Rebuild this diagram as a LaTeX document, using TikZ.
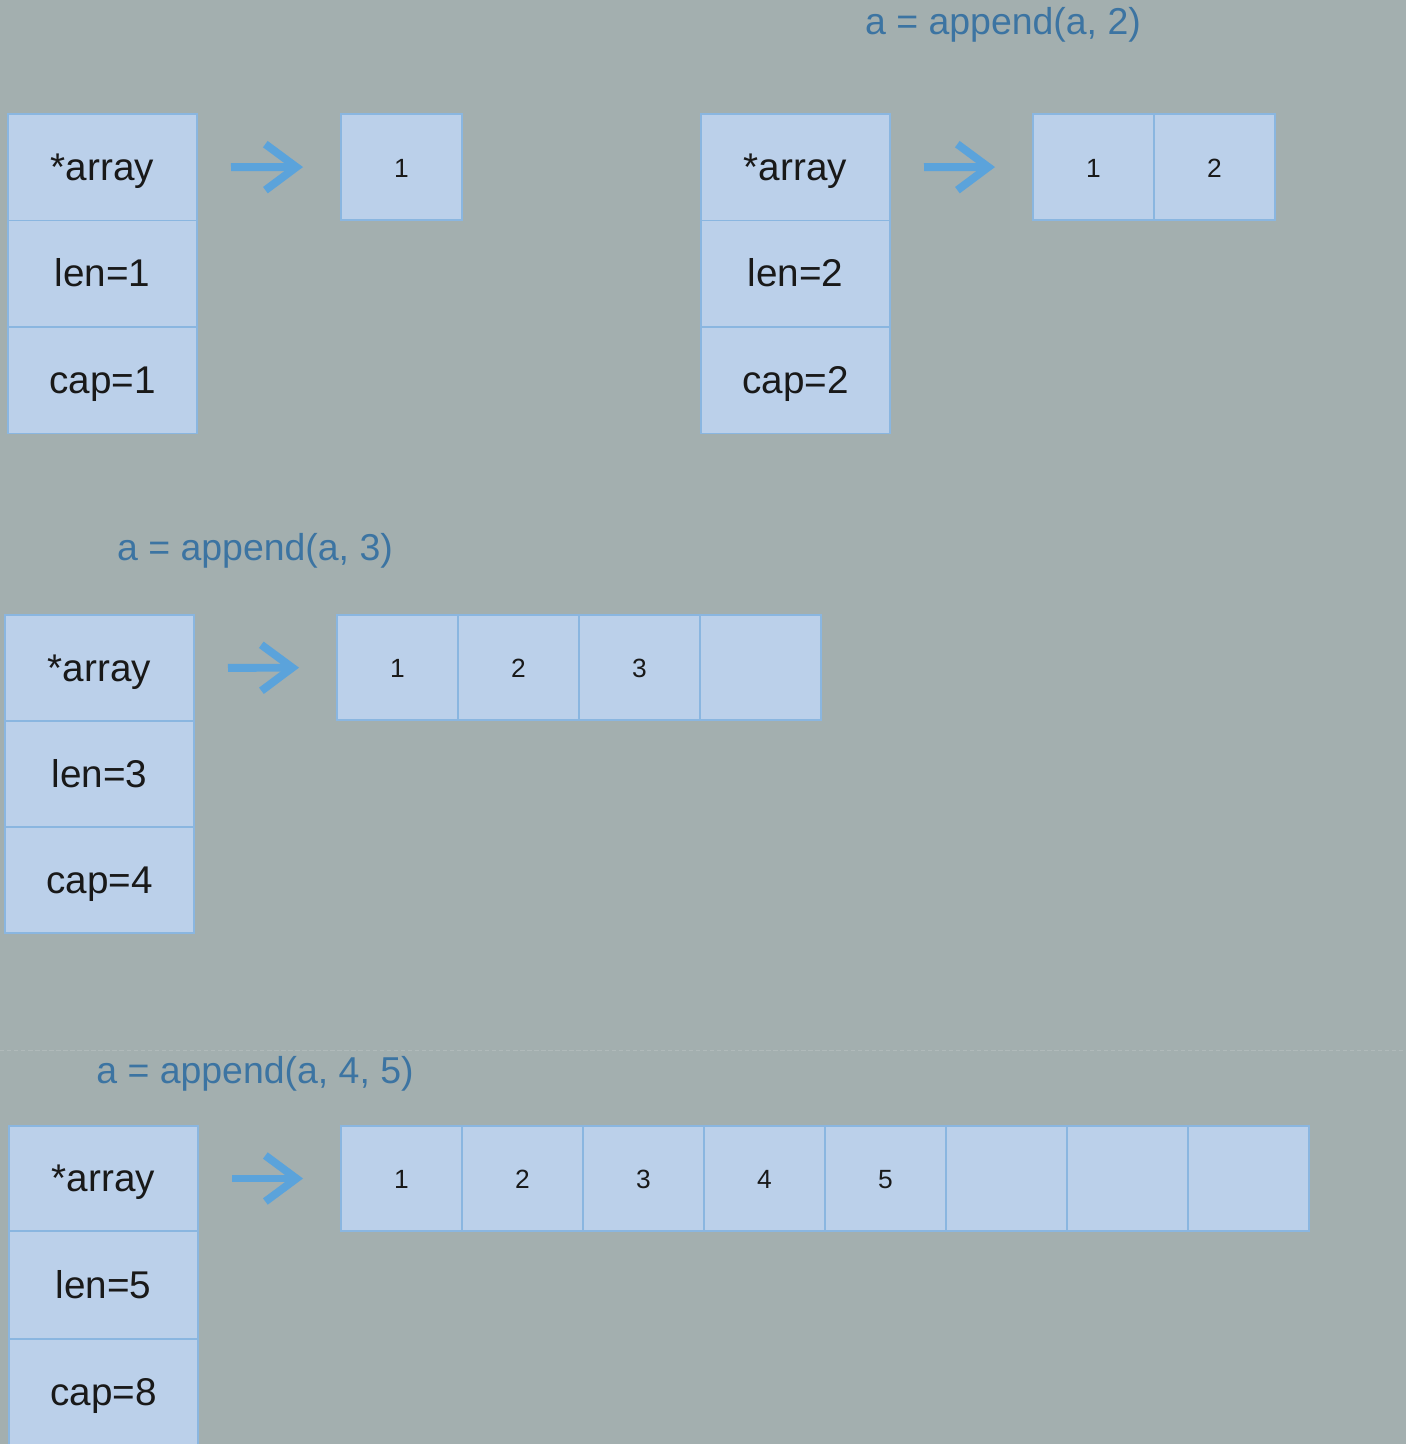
\documentclass[tikz,border=0pt]{standalone}
\usepackage{fontspec}
\setmainfont{Liberation Sans}
\usepackage{xcolor}
\usetikzlibrary{arrows.meta,positioning}

\definecolor{bgcol}{HTML}{A3AFAF}
\definecolor{boxfill}{HTML}{BBD0EA}
\definecolor{boxline}{HTML}{8AB6E0}
\definecolor{ptrcol}{HTML}{5BA3DB}
\definecolor{titlecol}{HTML}{3C74A2}

\begin{document}
\begin{tikzpicture}[
    every node/.style={align=center},
    field/.style={
        draw=boxline,
        fill=boxfill,
        line width=1pt,
        outer sep=0pt,
        minimum width=3.78cm,
        minimum height=2.13cm,
        inner sep=0pt,
        text height=0.72cm,
        text depth=0.2cm,
        text=black!90,
        font=\fontsize{22}{26}\selectfont
    },
    cell/.style={
        field,
        minimum width=2.42cm,
        minimum height=2.12cm,
        text height=0.4cm,
        text depth=0cm,
        font=\fontsize{15}{18}\selectfont
    },
    title/.style={
        text=titlecol,
        font=\fontsize{21.3}{25}\selectfont
    },
    ptr/.style={
        draw=ptrcol,
        line width=4.5pt,
        -{Straight Barb[length=0.62cm,width=0.92cm]},
        shorten <=0.68cm,
        shorten >=0.76cm
    }
]

% Background and frame
\path[use as bounding box, fill=bgcol] (0,0) rectangle (28.12,-28.88);

% Divider
\draw[draw=white!14!bgcol, line width=0.5pt, dash pattern=on 2.5pt off 1.5pt]
    (0,-21.0) -- (28.12,-21.0);

% Step 1: one element
\node[field, anchor=north west] (arr1) at (0.16,-2.28) {*array};
\node[field, below=0pt of arr1] (len1) {len=1};
\node[field, below=0pt of len1] (cap1) {cap=1};

\node[cell, anchor=north west] (buf1a) at (6.82,-2.28) {1};

\draw[ptr] (arr1.east) -- (buf1a.west);

% Step 2: append(a, 2)
\node[title] (title2) at (20.06,-0.5) {a = append(a, 2)};

\node[field, anchor=north west] (arr2) at (14.02,-2.28) {*array};
\node[field, below=0pt of arr2] (len2) {len=2};
\node[field, below=0pt of len2] (cap2) {cap=2};

\node[cell, anchor=north west] (buf2a) at (20.66,-2.28) {1};
\node[cell, right=0pt of buf2a] (buf2b) {2};

\draw[ptr] (arr2.east) -- (buf2a.west);

% Step 3: append(a, 3)
\node[title] (title3) at (5.1,-11.02) {a = append(a, 3)};

\node[field, anchor=north west, minimum height=2.12cm] (arr3) at (0.10,-12.30) {*array};
\node[field, below=0pt of arr3, minimum height=2.12cm] (len3) {len=3};
\node[field, below=0pt of len3, minimum height=2.12cm] (cap3) {cap=4};

\node[cell, anchor=north west, minimum height=2.1cm] (buf3a) at (6.74,-12.30) {1};
\node[cell, right=0pt of buf3a, minimum height=2.1cm] (buf3b) {2};
\node[cell, right=0pt of buf3b, minimum height=2.1cm] (buf3c) {3};
\node[cell, right=0pt of buf3c, minimum height=2.1cm] (buf3d) {};

\draw[ptr] (arr3.east) -- (buf3a.west);

% Step 4: append(a, 4, 5)
\node[title] (title4) at (5.1,-21.48) {a = append(a, 4, 5)};

\node[field, anchor=north west, minimum height=2.1cm] (arr4) at (0.18,-22.52) {*array};
\node[field, below=0pt of arr4, minimum height=2.16cm] (len4) {len=5};
\node[field, below=0pt of len4] (cap4) {cap=8};

\node[cell, anchor=north west, minimum height=2.1cm] (buf4a) at (6.82,-22.52) {1};
\node[cell, right=0pt of buf4a, minimum height=2.1cm] (buf4b) {2};
\node[cell, right=0pt of buf4b, minimum height=2.1cm] (buf4c) {3};
\node[cell, right=0pt of buf4c, minimum height=2.1cm] (buf4d) {4};
\node[cell, right=0pt of buf4d, minimum height=2.1cm] (buf4e) {5};
\node[cell, right=0pt of buf4e, minimum height=2.1cm] (buf4f) {};
\node[cell, right=0pt of buf4f, minimum height=2.1cm] (buf4g) {};
\node[cell, right=0pt of buf4g, minimum height=2.1cm] (buf4h) {};

\draw[ptr] (arr4.east) -- (buf4a.west);

\end{tikzpicture}
\end{document}
